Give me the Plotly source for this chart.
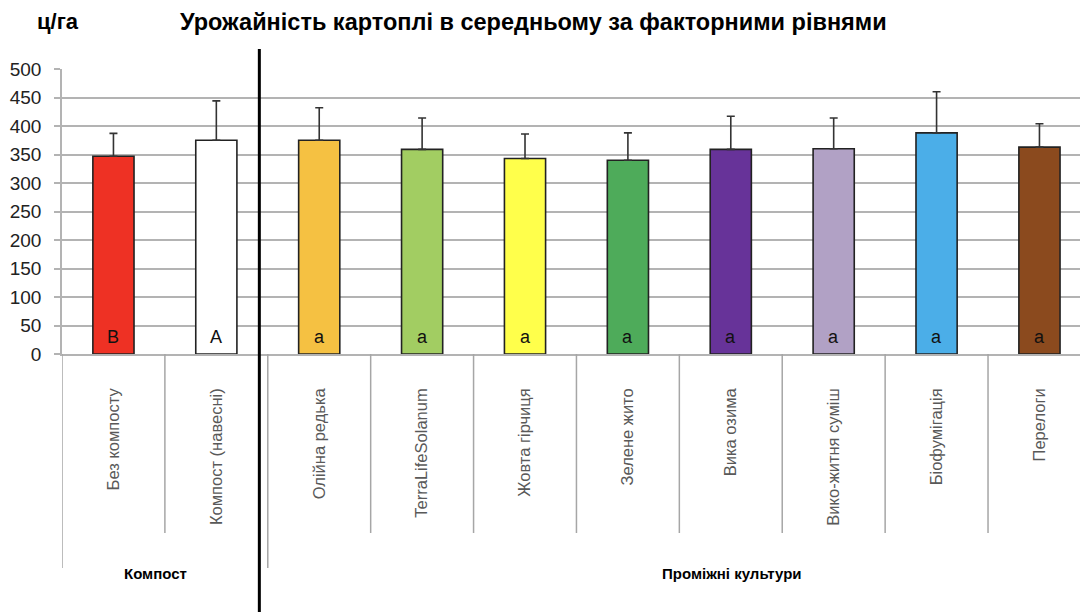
import plotly.graph_objects as go

# Середня урожайність картоплі (ц/га) за рівнями факторів
categories = [
    "Без компосту", "Компост (навесні)",
    "Олійна редька", "TerraLifeSolanum", "Жовта гірчиця", "Зелене жито",
    "Вика озима", "Вико-житня суміш", "Біофумігація", "Перелоги",
]
yield_mean = [347, 375, 375, 359, 343, 340, 359, 360, 388, 363]
yield_err = [40, 69, 57, 55, 43, 48, 58, 54, 72, 41]
letters = ["B", "A", "a", "a", "a", "a", "a", "a", "a", "a"]
bar_colors = ["#EE3124", "#FFFFFF", "#F5C142", "#A2CD62", "#FFFF4B",
              "#4EAB5A", "#673399", "#B1A1C5", "#4BAEE8", "#8B4A1E"]
groups = ["Компост", "Проміжні культури"]
group_sizes = [2, 8]
y_ticks = [0, 50, 100, 150, 200, 250, 300, 350, 400, 450, 500]

FONT = "Liberation Sans, Arial, sans-serif"
GRID = "#b3b3b3"
xs = list(range(len(categories)))

W, H = 1082, 612
ml, mr, mt, mb = 61.5, 2, 69, 258
pw, ph = W - ml - mr, H - mt - mb


def px_x(px):
    return (px - ml) / pw


def px_y(py):
    return (H - mb - py) / ph


fig = go.Figure()
fig.add_trace(go.Bar(
    x=xs, y=yield_mean, width=0.4,
    marker=dict(color=bar_colors, line=dict(color="#222222", width=1.6)),
    error_y=dict(type="data", symmetric=False, array=yield_err,
                 arrayminus=[0] * len(yield_err),
                 color="#333333", thickness=1.6, width=4),
    hoverinfo="skip",
))

annotations = []
# letters of significance inside bars
for x, lt in zip(xs, letters):
    annotations.append(dict(x=x, y=30, xref="x", yref="y", text=lt,
                            showarrow=False, yanchor="middle",
                            font=dict(size=18, color="#111111", family=FONT)))

# category divider lines under the axis
shapes = []
start = 0
group_starts = set()
for size in group_sizes:
    group_starts.add(start)
    start += size
for i in range(len(categories)):
    y_end = -0.751 if i in group_starts else -0.628
    shapes.append(dict(type="line", xref="x", yref="paper",
                       x0=i - 0.5, x1=i - 0.5, y0=0, y1=y_end,
                       line=dict(color="#a6a6a6", width=1.5)))

# heavy separator between factor groups
shapes.append(dict(type="line", xref="x", yref="paper",
                   x0=1.418, x1=1.418, y0=1.07, y1=-0.92,
                   line=dict(color="#000000", width=3)))

# group captions
for gx, name in zip([0.408, 6.008], groups):
    annotations.append(dict(x=gx, y=px_y(573), xref="x", yref="paper",
                            text=f"<b>{name}</b>", showarrow=False,
                            xanchor="center", yanchor="middle",
                            font=dict(size=15, color="#000000", family=FONT)))

# title and unit
annotations.append(dict(x=px_x(533), y=px_y(22), xref="paper", yref="paper",
                        text="<b>Урожайність картоплі в середньому за факторними рівнями</b>",
                        showarrow=False, xanchor="center", yanchor="middle",
                        font=dict(size=23.5, color="#000000", family=FONT)))
annotations.append(dict(x=px_x(57), y=px_y(22), xref="paper", yref="paper",
                        text="<b>ц/га</b>", showarrow=False,
                        xanchor="center", yanchor="middle",
                        font=dict(size=22, color="#000000", family=FONT)))

fig.update_layout(
    width=W, height=H,
    margin=dict(l=ml, r=mr, t=mt, b=mb, pad=0),
    paper_bgcolor="white", plot_bgcolor="white",
    showlegend=False,
    font=dict(family=FONT),
    xaxis=dict(
        range=[-0.5, 9.394], tickmode="array", tickvals=xs, ticktext=categories,
        tickangle=-90, ticks="", showgrid=False, zeroline=False,
        showline=True, linecolor=GRID, linewidth=1.5,
        tickfont=dict(size=16.5, color="#595959", family=FONT),
        ticklabelstandoff=26,
    ),
    yaxis=dict(
        range=[0, 500], tickvals=y_ticks, showgrid=True, gridcolor=GRID, gridwidth=2,
        zeroline=False, showline=True, linecolor=GRID, linewidth=1.5,
        ticks="outside", ticklen=6, tickcolor=GRID, tickwidth=1.5,
        tickfont=dict(size=19, color="#222222", family=FONT),
        ticklabelstandoff=9,
    ),
    annotations=annotations,
    shapes=shapes,
)

fig.write_html("out.html")
